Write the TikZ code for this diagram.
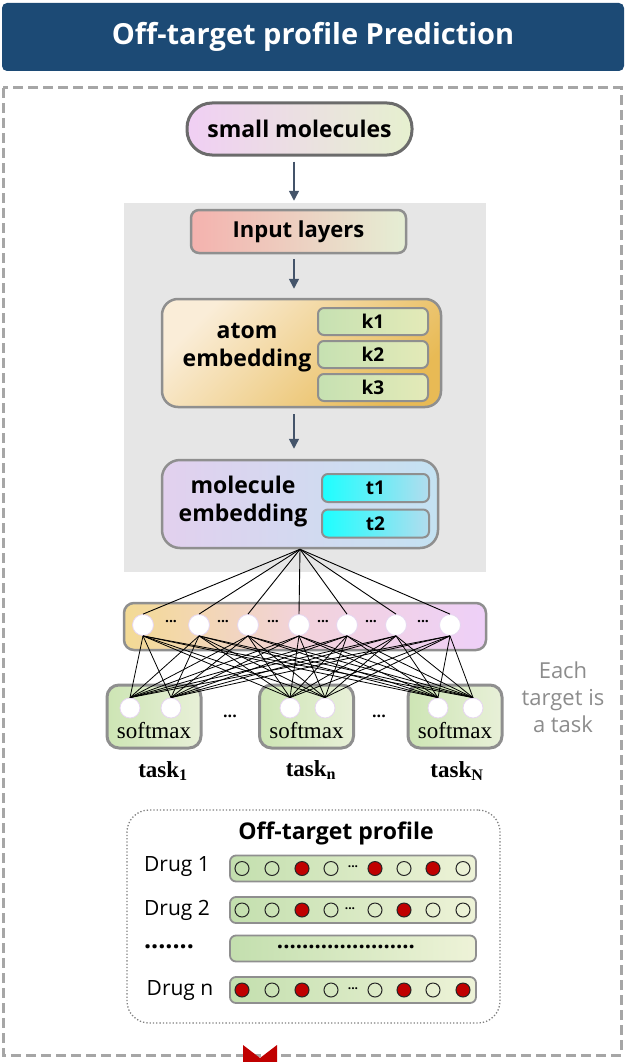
\documentclass[tikz,border=0pt]{standalone}
\usepackage{fontspec}
\setmainfont{Open Sans}
\newfontfamily\timesface{Liberation Serif}
\usetikzlibrary{arrows.meta}

\definecolor{headblue}{HTML}{1C4A75}
\definecolor{framegray}{HTML}{A6A6A6}
\definecolor{panelgray}{HTML}{E6E6E6}
\definecolor{arrowslate}{HTML}{44546A}
\definecolor{boxgray}{HTML}{8F8F8F}
\definecolor{pillrim}{HTML}{6B6B6B}
\definecolor{pillpink}{HTML}{F0CFF4}
\definecolor{pilllime}{HTML}{E6F0CF}
\definecolor{inpink}{HTML}{F4B2AE}
\definecolor{inlime}{HTML}{E5EED4}
\definecolor{atomcream}{HTML}{FAEDD8}
\definecolor{atomgold}{HTML}{E8BA55}
\definecolor{kgreen}{HTML}{C6E1B2}
\definecolor{klime}{HTML}{E4EAB8}
\definecolor{mollav}{HTML}{E2D0EE}
\definecolor{molblue}{HTML}{C4E2F2}
\definecolor{tcyan}{HTML}{1CFFFF}
\definecolor{tpale}{HTML}{B2DCEE}
\definecolor{hidyellow}{HTML}{F3DA94}
\definecolor{hidpink}{HTML}{F2D2DC}
\definecolor{hidlilac}{HTML}{EED0F8}
\definecolor{softgreen}{HTML}{CDE5B4}
\definecolor{softlight}{HTML}{E8F0D8}
\definecolor{neuronrim}{HTML}{E6D6F0}
\definecolor{notegray}{HTML}{8C8C8C}
\definecolor{dotgray}{HTML}{808080}
\definecolor{bargreen}{HTML}{C3DFAE}
\definecolor{barlight}{HTML}{EEF3D8}
\definecolor{hitred}{HTML}{C00000}

\begin{document}
\begin{tikzpicture}[x=1pt, y=-1pt,
    box/.style={draw=boxgray, line width=2.5pt, rounded corners=10pt, inner sep=0pt},
    subbox/.style={box, line width=2pt, rounded corners=6pt, minimum width=110pt, minimum height=27pt, font=\fontsize{19}{22}\selectfont\bfseries},
    softbox/.style={box, line width=3pt, rounded corners=12pt, minimum width=94pt, minimum height=63pt, left color=softgreen, right color=softlight},
    profbar/.style={box, line width=1.8pt, rounded corners=6pt, minimum width=246pt, minimum height=26pt, left color=bargreen, right color=barlight},
    flow/.style={draw=arrowslate, line width=1.5pt, -{Triangle[length=10pt,width=10pt]}},
    neuron/.style={circle, fill=white, draw=neuronrim, line width=0.8pt, minimum size=21pt, inner sep=0pt},
    link/.style={black, line width=0.9pt},
    spot/.style={circle, draw=black!85, line width=1pt, minimum size=14pt, inner sep=0pt},
    hit/.style={spot, fill=hitred},
    tasklab/.style={font=\timesface\fontsize{23}{26}\selectfont\bfseries},
    boldtext/.style={font=\fontsize{23}{28}\selectfont\bfseries, align=center}]
    \useasboundingbox (0,0) rectangle (626,1062);
    \coordinate (axis) at (294,0);

    % Header bar
    \node[fill=headblue, rounded corners=5pt, minimum width=622pt, minimum height=68pt, text=white, font=\fontsize{29}{34}\selectfont\bfseries] (head) at (313,37) {Off-target profile Prediction};
    % Dashed frame
    \draw[framegray, line width=3pt, dash pattern=on 10pt off 5pt] (3,88) rectangle (621,1055);

    % Input molecules
    \node[box, draw=pillrim, line width=3pt, rounded corners=25pt, minimum width=225pt, minimum height=52pt, left color=pillpink, right color=pilllime, font=\fontsize{23}{28}\selectfont\bfseries] (mols) at (299.5,129) {small molecules};

    % Gray backdrop of the encoder
    \fill[panelgray] (124,203) rectangle (486,572);

    \node[box, rounded corners=8pt, minimum width=215pt, minimum height=43pt, left color=inpink, right color=inlime, font=\fontsize{22}{26}\selectfont\bfseries] (input) at (298.5,231.5) {Input layers};
    \draw[flow] ([yshift=-5pt]mols.south -| axis) -- ([yshift=8pt]input.north -| axis);

    % Atom embedding with k1..k3
    \node[box, rounded corners=16pt, minimum width=279pt, minimum height=108pt, top color=atomcream, bottom color=atomgold, shading angle=45] (atom) at (301.5,353) {};
    \node[boldtext] (atomlab) at (247,348) {atom\\embedding};
    \node[subbox, left color=kgreen, right color=klime] (k1) at (373,321.5) {k1};
    \node[subbox, left color=kgreen, right color=klime] (k2) at (373,354.5) {k2};
    \node[subbox, left color=kgreen, right color=klime] (k3) at (373,387.5) {k3};
    \draw[flow] ([yshift=-5pt]input.south -| axis) -- ([yshift=9pt]atom.north -| axis);

    % Molecule embedding with t1, t2
    \node[box, rounded corners=18pt, minimum width=276pt, minimum height=88pt, left color=mollav, right color=molblue] (mol) at (300,504) {};
    \node[boldtext] (mollab) at (243,502) {molecule\\embedding};
    \node[subbox, minimum width=107pt, minimum height=28pt, left color=tcyan, right color=tpale] (t1) at (375.5,488) {t1};
    \node[subbox, minimum width=107pt, minimum height=28pt, left color=tcyan, right color=tpale] (t2) at (375.5,523.5) {t2};
    \draw[flow] ([yshift=-6pt]atom.south -| axis) -- ([yshift=10pt]mol.north -| axis);

    % Shared hidden layer
    \node[box, rounded corners=10pt, minimum width=362pt, minimum height=47pt, left color=hidyellow, right color=hidlilac, middle color=hidpink] (hidden) at (305,626.5) {};
    \foreach \x [count=\i] in {143,199,248,299,347,396,450}
        \node[neuron] (h\i) at (\x,625) {};
    \foreach \x [count=\i] in {171,223,273,323,371,423}
        \node[font=\fontsize{14}{14}\selectfont\bfseries] (hd\i) at (\x,622) {...};
    \foreach \i in {1,...,7}
        \draw[link] (mol.south) -- (h\i.north);

    % Task heads
    \foreach \x [count=\n] in {154,306.5,455} {
        \node[softbox] (sm\n) at (\x,716.5) {};
        \node[font=\timesface\fontsize{23}{26}\selectfont] (smt\n) at (\x,731) {softmax};
    }
    \foreach \x [count=\j] in {130,171,290,325,438,473}
        \node[neuron, minimum size=20pt] (s\j) at (\x,708) {};
    \foreach \i in {1,...,7}
        \foreach \j in {1,...,6}
            \draw[link, line width=0.8pt] (h\i.south) -- (s\j.north);
    \node[font=\fontsize{16}{16}\selectfont\bfseries] (gapa) at (230,716) {...};
    \node[font=\fontsize{16}{16}\selectfont\bfseries] (gapb) at (379,716) {...};

    \node[tasklab] (task1) at (163,771) {task\textsubscript{1}};
    \node[tasklab] (taskn) at (311,770) {task\textsubscript{n}};
    \node[tasklab] (taskN) at (457,771) {task\textsubscript{N}};
    \node[text=notegray, align=center, font=\fontsize{22}{27}\selectfont] (note) at (563,697) {Each\\target is\\a task};

    % Off-target profile table
    \node[draw=dotgray, dotted, line width=1.3pt, rounded corners=22pt, minimum width=373pt, minimum height=213pt] (profile) at (313.5,916.5) {};
    \node[font=\fontsize{23}{28}\selectfont\bfseries] (proftitle) at (336,833) {Off-target profile};

    \node[font=\fontsize{21}{25}\selectfont] (drug1) at (177,867) {Drug 1};
    \node[font=\fontsize{21}{25}\selectfont] (drug2) at (177,910) {Drug 2};
    \node[font=\fontsize{25}{25}\selectfont\bfseries] (drugdots) at (169,947) {.......};
    \node[font=\fontsize{21}{25}\selectfont] (drugn) at (180,991) {Drug n};

    \node[profbar] (bar1) at (353,868.5) {};
    \node[profbar] (bar2) at (353,910) {};
    \node[profbar] (bar3) at (353,948.5) {};
    \node[profbar] (bar4) at (353,990) {};

    \foreach \x [count=\i] in {242,272,331,404,463} \node[spot] (ao\i) at (\x,868.5) {};
    \foreach \x [count=\i] in {302,375,433} \node[hit] (ar\i) at (\x,868.5) {};
    \foreach \x [count=\i] in {242,272,331,375,433,463} \node[spot] (bo\i) at (\x,910) {};
    \foreach \x [count=\i] in {302,404} \node[hit] (br\i) at (\x,910) {};
    \foreach \x [count=\i] in {272,331,375,433} \node[spot] (co\i) at (\x,990) {};
    \foreach \x [count=\i] in {242,302,404,463} \node[hit] (cr\i) at (\x,990) {};
    \node[font=\fontsize{12}{12}\selectfont\bfseries] (gap1) at (353,867) {...};
    \node[font=\fontsize{12}{12}\selectfont\bfseries] (gap2) at (350,909) {...};
    \node[font=\fontsize{12}{12}\selectfont\bfseries] (gap4) at (353,989) {...};
    \node[font=\fontsize{22}{22}\selectfont\bfseries] (bardots) at (346,947) {......................};

    % Red marker at the bottom edge
    \fill[hitred] (243,1045) -- (260,1058) -- (277,1045) -- (277,1062) -- (243,1062) -- cycle;
\end{tikzpicture}
\end{document}
